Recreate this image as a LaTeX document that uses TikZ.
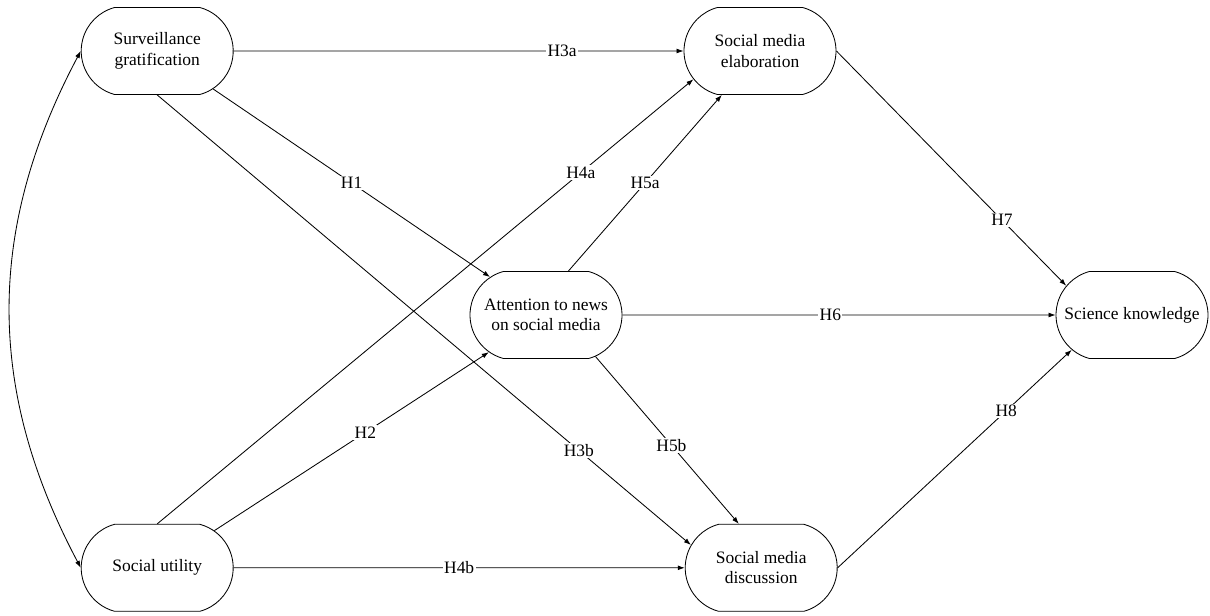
\documentclass[tikz,border=0pt]{standalone}
\usepackage{fontspec}
\setmainfont{Liberation Serif}
\usetikzlibrary{shapes.misc, arrows.meta}

\begin{document}
\begin{tikzpicture}[
        construct/.style={rounded rectangle, rounded rectangle arc length=150, draw,
            line width=0.6pt, minimum width=3.8cm, minimum height=2.175cm,
            inner sep=0pt, align=center, font=\fontsize{12.4}{14.5}\selectfont},
        hlabel/.style={fill=white, inner sep=1pt, font=\fontsize{12.4}{14.5}\selectfont},
        link/.style={-{Latex[length=5pt,width=3.5pt]}, line width=0.6pt}
    ]
        \useasboundingbox (0,0) rectangle (30.25,15.375);
        % constructs
        \node[construct] (surv) at (3.93,14.10) {Surveillance\\gratification};
        \node[construct] (util) at (3.93,1.18) {Social utility};
        \node[construct] (attn) at (13.65,7.5) {Attention to news\\on social media};
        \node[construct] (elab) at (19.0,14.10) {Social media\\elaboration};
        \node[construct] (disc) at (19.03,1.18) {Social media\\discussion};
        \node[construct] (know) at (28.3,7.5) {Science knowledge};
        % correlation
        \draw[link, {Latex[length=5pt,width=3.5pt]}-{Latex[length=5pt,width=3.5pt]}]
            (surv.west) to[bend right=28] (util.west);
        % hypothesised paths
        \draw[link] (surv) -- node[hlabel, pos=0.73] {H3a} (elab);
        \draw[link] (surv) -- node[hlabel, pos=0.5] {H1} (attn);
        \draw[link] (surv.south) -- node[hlabel, pos=0.79] {H3b} (disc.162);
        \draw[link] (util.north) -- node[hlabel, pos=0.79] {H4a} (elab.203);
        \draw[link] (util) -- node[hlabel, pos=0.55] {H2} (attn);
        \draw[link] (util) -- node[hlabel, pos=0.5] {H4b} (disc);
        \draw[link] (attn.63) -- node[hlabel] {H5a} (elab.229);
        \draw[link] (attn) -- node[hlabel, pos=0.48] {H6} (know);
        \draw[link] (attn.320) -- node[hlabel, pos=0.53] {H5b} (disc.117);
        \draw[link] (elab.east) -- node[hlabel, pos=0.72] {H7} (know.156);
        \draw[link] (disc.east) -- node[hlabel, pos=0.72] {H8} (know.210);
    \end{tikzpicture}
\end{document}
